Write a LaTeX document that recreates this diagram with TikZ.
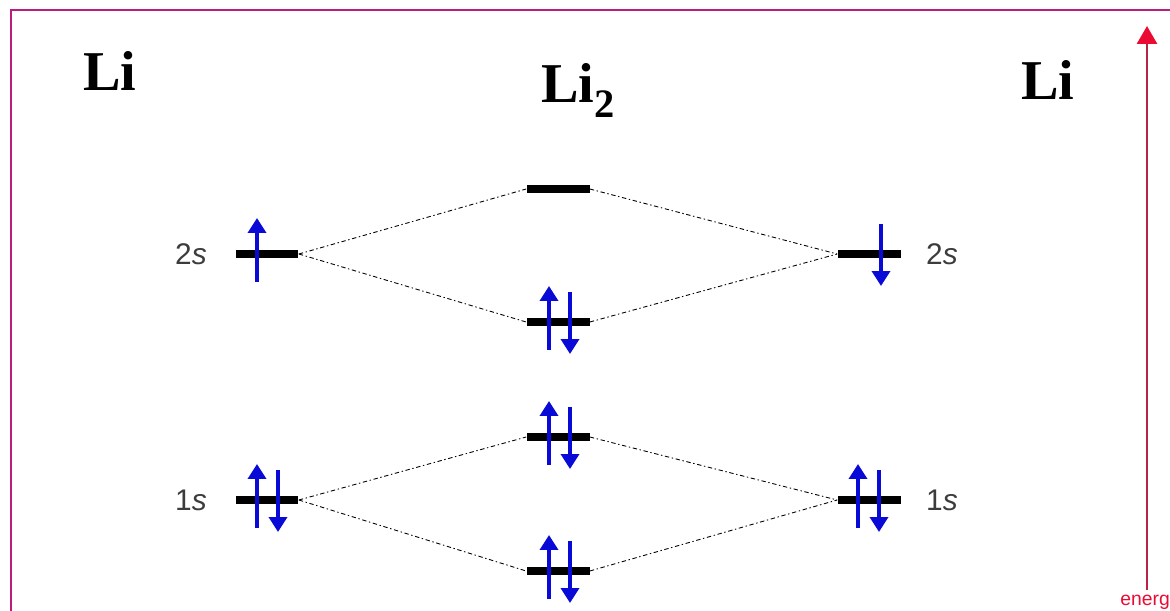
\documentclass[tikz,border=0pt]{standalone}
\usepackage{fontspec}
\setmainfont{Liberation Serif}
\newfontfamily\orbfont{Liberation Sans}
\usetikzlibrary{arrows.meta}
\definecolor{framepink}{RGB}{185,30,125}
\definecolor{spinblue}{RGB}{10,10,215}
\definecolor{energyred}{RGB}{235,10,50}
\definecolor{energyshaft}{RGB}{185,35,70}
\definecolor{labelgray}{RGB}{60,60,60}

% spin arrows on a level node
\newcommand{\spinup}[2]{\draw[spin] ([shift={(#2,28)}]#1.center) -- ++(0,-64);}
\newcommand{\spindown}[2]{\draw[spin] ([shift={(#2,-30)}]#1.center) -- ++(0,62);}

\begin{document}
\begin{tikzpicture}[
    x=0.02cm, y=-0.02cm,
    level/.style={rectangle, fill=black, minimum width=1.26cm, minimum height=0.17cm, inner sep=0pt},
    mix/.style={black, line width=0.5pt, dash pattern=on 2.5pt off 1.5pt on 0.8pt off 1.5pt},
    spin/.style={spinblue, line width=2pt, -{Triangle[width=0.36cm, length=0.3cm]}},
    atom/.style={font=\bfseries\fontsize{32}{32}\selectfont, inner sep=0pt, anchor=base west},
    orb/.style={font=\orbfont\fontsize{17}{17}\selectfont, text=labelgray, inner sep=0pt},
    energy/.style={energyshaft, line width=1.6pt, -{Triangle[width=0.4cm, length=0.36cm, color=energyred]}}
]
\useasboundingbox (0,0) rectangle (1170,611);
% frame
\draw[framepink, line width=0.04cm] (11,611) -- (11,10) -- (1170,10);

% Atom labels
\node[atom] (liA) at (83,91) {Li};
\node[atom] (liM) at (541,103) {Li\raisebox{-8.5pt}{\fontsize{23}{23}\selectfont 2}};
\node[atom] (liB) at (1021,100) {Li};

% Atomic levels
\node[level] (a2s) at (267,254) {};
\node[level] (a1s) at (267,500) {};
\node[level] (b2s) at (869,254) {};
\node[level] (b1s) at (869,500) {};
% Molecular levels
\node[level] (s2sx) at (558,189) {};
\node[level] (s2s)  at (558,322) {};
\node[level] (s1sx) at (558,437) {};
\node[level] (s1s)  at (558,571) {};

% Orbital labels
\node[orb] (la2s) at (191,254) {2\textit{s}};
\node[orb] (la1s) at (191,500) {1\textit{s}};
\node[orb] (lb2s) at (942,254) {2\textit{s}};
\node[orb] (lb1s) at (942,500) {1\textit{s}};

% Correlation lines
\draw[mix] (a2s.east) -- (s2sx.west);
\draw[mix] (a2s.east) -- (s2s.west);
\draw[mix] (s2sx.east) -- (b2s.west);
\draw[mix] (s2s.east) -- (b2s.west);
\draw[mix] (a1s.east) -- (s1sx.west);
\draw[mix] (a1s.east) -- (s1s.west);
\draw[mix] (s1sx.east) -- (b1s.west);
\draw[mix] (s1s.east) -- (b1s.west);

% Electrons
\spinup{a2s}{-10}
\spinup{a1s}{-10}
\spindown{a1s}{11}
\spindown{b2s}{12}
\spinup{b1s}{-11}
\spindown{b1s}{10}
\spinup{s2s}{-9}
\spindown{s2s}{12}
\spinup{s1sx}{-9}
\spindown{s1sx}{12}
\spinup{s1s}{-9}
\spindown{s1s}{12}

% Energy axis
\coordinate (elow) at (1147,590);
\coordinate (ehigh) at (1147,26);
\draw[energy] (elow) -- (ehigh);
\node[font=\orbfont\fontsize{11}{11}\selectfont, text=energyred, anchor=base west, inner sep=0pt] (elabel) at (1120,605) {energ};
\end{tikzpicture}
\end{document}
